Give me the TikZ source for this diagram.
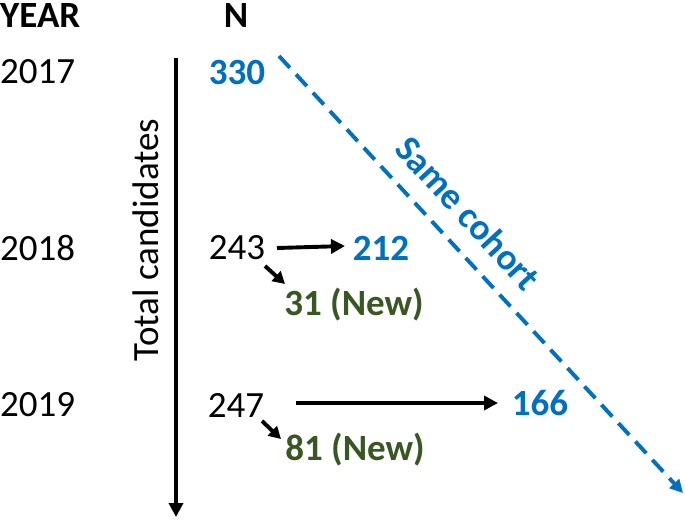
\documentclass[tikz,border=0pt]{standalone}
\usepackage{fontspec}
\setmainfont{Carlito}
\usetikzlibrary{arrows.meta}
\definecolor{cblue}{HTML}{0070C0}
\definecolor{cgreen}{HTML}{385723}
\begin{document}
\begin{tikzpicture}[x=1pt,y=-1pt,
  txt/.style={font=\fontsize{37}{40}\selectfont, inner sep=0pt},
  bld/.style={txt, font=\fontsize{37}{40}\selectfont\bfseries},
  bluet/.style={bld, text=cblue},
  greent/.style={bld, text=cgreen},
  arr/.style={line width=3.9pt, -{Triangle[length=14pt,width=14pt]}},
  sarr/.style={line width=3.9pt, -{Triangle[length=12pt,width=13pt]}}]
\useasboundingbox (0,0) rectangle (685,520);
\node[bld, anchor=west] (year) at (0,16) {YEAR};
\node[bld] (n) at (236,16) {N};
\node[txt, anchor=west] (y17) at (0,72) {2017};
\node[txt, anchor=west] (y18) at (0,248) {2018};
\node[txt, anchor=west] (y19) at (0,405) {2019};
\coordinate (axtop) at (176,58);
\coordinate (axbot) at (176,517);
\draw[arr] (axtop) -- (axbot);
\node[txt, rotate=90] (tc) at (146,240) {Total candidates};
\node[bluet] (n330) at (237,72) {330};
\coordinate (cs) at (279,56);
\coordinate (ce) at (683,493);
\draw[cblue, line width=3.9pt, dash pattern=on 16pt off 9pt, -{Triangle[length=13pt,width=13pt]}] (cs) -- (ce);
\node[bld, text=cblue, rotate=-47.5] (sc) at (468,213) {Same cohort};
\node[txt] (n243) at (237,248) {243};
\node[bluet] (n212) at (381,248) {212};
\draw[arr] ([shift={(40,0)}]n243.center) -- ([shift={(-36,-2)}]n212.center);
\node[greent] (n31) at (354,305) {31 (New)};
\draw[sarr] ([shift={(28,18)}]n243.center) -- ([shift={(-69,-21)}]n31.center);
\node[txt] (n247) at (236,405) {247};
\node[bluet] (n166) at (540,403) {166};
\draw[arr] ([shift={(60,-2)}]n247.center) -- ([shift={(-42,0)}]n166.center);
\node[greent] (n81) at (355,450) {81 (New)};
\draw[sarr] ([shift={(26,16)}]n247.center) -- ([shift={(-74,-11)}]n81.center);
\end{tikzpicture}
\end{document}
